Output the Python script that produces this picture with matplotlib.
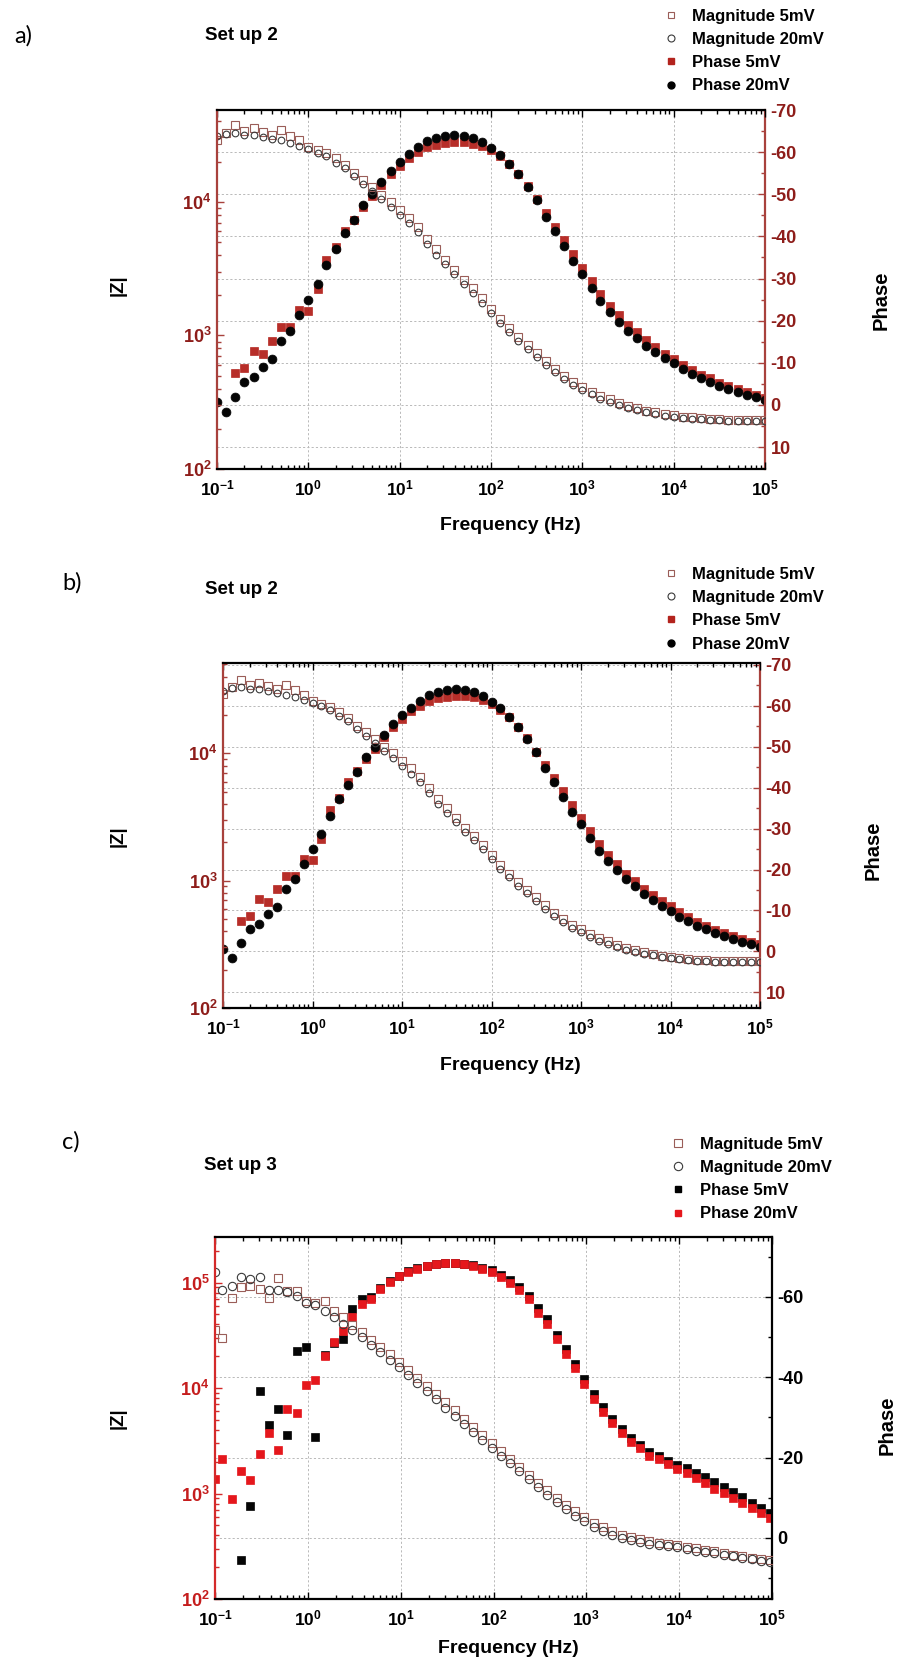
import numpy as np
import matplotlib
matplotlib.use('Agg')
import matplotlib.pyplot as plt
from matplotlib.ticker import FixedLocator, FixedFormatter, LogLocator, NullLocator, NullFormatter
from matplotlib.lines import Line2D

plt.rcParams['font.family'] = ['Liberation Sans', 'DejaVu Sans']
plt.rcParams['mathtext.fontset'] = 'custom'
plt.rcParams['mathtext.rm'] = 'Liberation Sans:bold'
plt.rcParams['mathtext.bf'] = 'Liberation Sans:bold'
plt.rcParams['mathtext.it'] = 'Liberation Sans:bold:italic'

nan = np.nan

# ---------------- data: panels a) and b) (same measurement, Set up 2) ----------------
FREQ_AB = [0.1, 0.126, 0.158, 0.2, 0.251, 0.316, 0.398, 0.501, 0.631, 0.794,
           1.0, 1.26, 1.58, 2.0, 2.51, 3.16, 3.98, 5.01, 6.31, 7.94,
           10, 12.6, 15.8, 20, 25.1, 31.6, 39.8, 50.1, 63.1, 79.4,
           100, 126, 158, 200, 251, 316, 398, 501, 631, 794,
           1000, 1260, 1580, 2000, 2510, 3160, 3980, 5010, 6310, 7940,
           10000, 12600, 15800, 20000, 25100, 31600, 39800, 50100, 63100, 79400, 100000]

MAG_5MV_AB = [29000, 33000, 37800, 34200, 35600, 33600, 31800, 34600, 31200, 28800,
              25900, 24500, 23200, 21200, 18900, 16400, 14600, 12900, 11300, 10000,
              8700, 7600, 6500, 5300, 4400, 3700, 3100, 2600, 2250, 1900,
              1580, 1320, 1130, 980, 850, 740, 640, 560, 498, 451,
              414, 380, 352, 333, 314, 297, 285, 274, 266, 258,
              252, 247, 243, 240, 237, 235, 234, 233, 233, 232, 232]

MAG_20MV_AB = [31000, 32300, 33000, 31800, 31800, 30800, 29500, 28800, 27800, 26400,
               24900, 23400, 21900, 19700, 17900, 15500, 13600, 12000, 10500, 9200,
               8000, 6900, 5900, 4850, 4000, 3400, 2880, 2420, 2080, 1760,
               1470, 1240, 1060, 915, 795, 690, 600, 528, 470, 428,
               392, 362, 337, 318, 302, 287, 276, 266, 259, 251,
               246, 241, 238, 235, 233, 231, 230, 229, 229, 228, 228]

PHASE_5MV_AB = [nan, nan, -7.5, -8.7, -12.7, -12.1, -15.2, -18.4, -18.4, -22.6,
                -22.2, -27.4, -34.5, -37.5, -41.4, -44.0, -47.0, -49.5, -52.3, -54.7,
                -56.8, -58.6, -60.0, -61.2, -61.8, -62.2, -62.4, -62.3, -62.0, -61.4,
                -60.4, -59.0, -57.3, -54.8, -52.0, -48.8, -45.6, -42.3, -39.2, -35.8,
                -32.5, -29.4, -26.3, -23.6, -21.3, -19.0, -17.2, -15.3, -13.7, -12.2,
                -11.0, -9.6, -8.4, -7.2, -6.3, -5.3, -4.5, -3.8, -3.1, -2.4, -1.7]

PHASE_20MV_AB = [-0.6, 1.6, -2.0, -5.4, -6.6, -9.1, -10.9, -15.2, -17.6, -21.4,
                 -24.9, -28.6, -33.1, -37.1, -40.7, -43.8, -47.4, -50.0, -52.9, -55.5,
                 -57.6, -59.5, -61.2, -62.6, -63.3, -63.8, -64.0, -63.8, -63.3, -62.4,
                 -61.0, -59.4, -57.3, -54.8, -51.8, -48.6, -44.7, -41.3, -37.7, -34.1,
                 -31.0, -27.8, -24.6, -22.0, -19.8, -17.6, -15.9, -14.0, -12.5, -11.1,
                 -9.9, -8.5, -7.4, -6.3, -5.4, -4.5, -3.7, -3.0, -2.4, -1.8, -1.2]

# ---------------- data: panel c) (Set up 3) ----------------
FREQ_C = [0.1, 0.1202, 0.1514, 0.1905, 0.2399, 0.302, 0.3802, 0.4786, 0.6026, 0.7586, 0.955,
          1.202, 1.514, 1.905, 2.399, 3.02, 3.802, 4.786, 6.026, 7.586, 9.55,
          12.02, 15.14, 19.05, 23.99, 30.2, 38.02, 47.86, 60.26, 75.86, 95.5,
          120.2, 151.4, 190.5, 239.9, 302, 380.2, 478.6, 602.6, 758.6, 955,
          1202, 1514, 1905, 2399, 3020, 3802, 4786, 6026, 7586, 9550,
          12020, 15140, 19050, 23990, 30200, 38020, 47860, 60260, 75860, 95500]

MAG_5MV_C = [35500, 29500, 70800, 90100, 93300, 87100, 70800, 110000, 83700, 83700, 67400,
             64100, 67400, 54200, 46900, 39800, 33900, 28800, 24500, 20900, 17800,
             14800, 12400, 10500, 8710, 7330, 6170, 5130, 4270, 3550, 2990,
             2510, 2140, 1800, 1510, 1270, 1070, 912, 785, 676, 596,
             531, 479, 437, 407, 385, 367, 355, 343, 331, 324,
             313, 302, 292, 282, 272, 263, 254, 245, 240, 234]

MAG_20MV_C = [125000, 85100, 93300, 112000, 108000, 112000, 85700, 85700, 80700, 75200, 64600,
              61400, 54200, 47500, 40600, 35100, 30200, 25700, 21900, 18600, 15800,
              13300, 11100, 9310, 7800, 6530, 5470, 4580, 3840, 3210, 2690,
              2290, 1950, 1640, 1380, 1160, 977, 832, 716, 617, 543,
              484, 437, 403, 376, 359, 347, 335, 324, 316, 308,
              298, 288, 279, 270, 262, 254, 245, 238, 230, 223]

PHASE_5MV_C = [nan, nan, nan, 5.5, -7.9, -36.6, -28.1, -32.0, -25.6, -46.5, -47.5,
               -25.0, -45.6, -48.5, -49.6, -56.9, -59.5, -60.0, -62.3, -64.0, -65.3,
               -66.4, -67.2, -67.8, -68.2, -68.5, -68.5, -68.3, -67.9, -67.3, -66.6,
               -65.4, -64.1, -62.4, -60.2, -57.2, -54.5, -50.6, -47.0, -43.3, -39.6,
               -35.9, -32.5, -29.7, -27.0, -24.8, -23.1, -21.3, -20.4, -19.2, -18.2,
               -17.4, -16.2, -15.1, -13.8, -12.6, -11.4, -10.1, -8.8, -7.5, -6.2]

PHASE_20MV_C = [-14.7, -19.6, -9.6, -16.7, -14.4, -21.0, -26.2, -21.9, -32.2, -31.2, -38.0,
                -39.3, -45.2, -48.7, -51.5, -55.0, -58.3, -59.5, -62.0, -63.7, -65.1,
                -66.2, -67.0, -67.6, -68.1, -68.4, -68.4, -68.2, -67.7, -67.0, -66.2,
                -64.9, -63.5, -61.7, -59.4, -56.1, -53.2, -49.6, -45.9, -42.2, -38.4,
                -34.7, -31.4, -28.7, -26.0, -23.9, -22.3, -20.4, -19.6, -18.3, -17.1,
                -16.1, -14.8, -13.7, -12.3, -11.1, -9.9, -8.6, -7.4, -6.1, -4.9]

# ---------------- tick labels / texts ----------------
X_TICKS = [1e-1, 1e0, 1e1, 1e2, 1e3, 1e4, 1e5]
X_TICK_LABELS = [r'$10^{-1}$', r'$10^{0}$', r'$10^{1}$', r'$10^{2}$', r'$10^{3}$', r'$10^{4}$', r'$10^{5}$']
Z_TICKS_AB = [1e2, 1e3, 1e4]
Z_TICK_LABELS_AB = [r'$10^{2}$', r'$10^{3}$', r'$10^{4}$']
Z_TICKS_C = [1e2, 1e3, 1e4, 1e5]
Z_TICK_LABELS_C = [r'$10^{2}$', r'$10^{3}$', r'$10^{4}$', r'$10^{5}$']
P_TICKS_AB = [-70, -60, -50, -40, -30, -20, -10, 0, 10]
P_MINOR_AB = [-65, -55, -45, -35, -25, -15, -5, 5, 15]
P_TICKS_C = [-60, -40, -20, 0]
P_MINOR_C = [-70, -50, -30, -10, 10]
LEGEND_LABELS = ['Magnitude 5mV', 'Magnitude 20mV', 'Phase 5mV', 'Phase 20mV']

W, H = 897, 1667
fig = plt.figure(figsize=(W / 100, H / 100), dpi=100)
fig.patch.set_facecolor('white')

GRID_KW = dict(color='#b9b9b9', linestyle=(0, (2.2, 2.2)), linewidth=0.7)
BOLD = dict(fontweight='bold')
YTICK_FS = 13
XTICK_FS = 12.5


def fx(x):
    return x / W


def fy(y):
    return 1 - y / H


def panel(l, t, r, b, zlim, plim, zticks, zlabels, pticks, plabels, pminor,
          left_col, left_lab_col, right_col, right_lab_col):
    pos = [fx(l), fy(b), (r - l) / W, (b - t) / H]
    axp = fig.add_axes(pos)
    axm = fig.add_axes(pos)
    axm.patch.set_visible(False)
    for a in (axp, axm):
        a.set_xscale('log')
        a.set_xlim(0.1, 1e5)
    # phase axis (behind, right)
    axp.set_ylim(*plim)
    axp.yaxis.tick_right()
    axp.yaxis.set_major_locator(FixedLocator(pticks))
    axp.yaxis.set_major_formatter(FixedFormatter(plabels))
    axp.yaxis.set_minor_locator(FixedLocator(pminor))
    axp.tick_params(axis='y', which='both', direction='in', color=right_col,
                    labelcolor=right_lab_col, labelsize=YTICK_FS, pad=4, width=1.0)
    axp.tick_params(axis='y', which='major', length=5)
    axp.tick_params(axis='y', which='minor', length=3)
    for lab in axp.get_yticklabels():
        lab.set_fontweight('bold')
    axp.xaxis.set_major_locator(FixedLocator(X_TICKS))
    axp.xaxis.set_minor_locator(NullLocator())
    axp.tick_params(axis='x', which='both', bottom=False, top=False,
                    labelbottom=False, labeltop=False)
    axp.grid(True, which='major', **GRID_KW)
    for s in axp.spines.values():
        s.set_visible(False)
    axp.spines['right'].set_visible(True)
    axp.spines['right'].set_color(right_col)
    axp.spines['right'].set_linewidth(1.6)
    # magnitude axis (front, left)
    axm.set_yscale('log')
    axm.set_ylim(*zlim)
    axm.yaxis.set_major_locator(FixedLocator(zticks))
    axm.yaxis.set_major_formatter(FixedFormatter(zlabels))
    axm.yaxis.set_minor_locator(LogLocator(base=10, subs=np.arange(2, 10), numticks=20))
    axm.yaxis.set_minor_formatter(NullFormatter())
    axm.tick_params(axis='y', which='both', direction='in', color=left_col,
                    labelcolor=left_lab_col, labelsize=YTICK_FS, pad=4, width=1.0)
    axm.tick_params(axis='y', which='major', length=5)
    axm.tick_params(axis='y', which='minor', length=3)
    axm.xaxis.set_major_locator(FixedLocator(X_TICKS))
    axm.xaxis.set_major_formatter(FixedFormatter(X_TICK_LABELS))
    axm.xaxis.set_minor_locator(LogLocator(base=10, subs=np.arange(2, 10), numticks=20))
    axm.xaxis.set_minor_formatter(NullFormatter())
    axm.tick_params(axis='x', which='both', direction='in', top=True, bottom=True,
                    color='black', labelsize=XTICK_FS, pad=7, width=1.0)
    axm.tick_params(axis='x', which='major', length=5)
    axm.tick_params(axis='x', which='minor', length=3)
    axm.spines['right'].set_visible(False)
    axm.spines['left'].set_color(left_col)
    axm.spines['left'].set_linewidth(1.6)
    axm.spines['top'].set_linewidth(1.6)
    axm.spines['bottom'].set_linewidth(1.6)
    return axm, axp


def legend(x, y, handles, fs=12):
    fig.legend(handles, LEGEND_LABELS, loc='upper left', bbox_to_anchor=(fx(x), fy(y)),
               frameon=False, prop={'weight': 'bold', 'size': fs}, handlelength=0.9,
               handletextpad=0.87, labelspacing=0.5, borderpad=0, borderaxespad=0)


# colours
DR = '#8e1d1a'
DR_SP = '#a8413c'
SQ_EDGE = '#9a5d58'
CI_EDGE = '#3a3a3a'
PH5_RED = '#b3231d'
C_RED = '#e5171c'

# ---------- panels a and b ----------
for (l, t, r, b, zlim, plim, letter_x, letter_y, title_y, leg_y, zlab_y, plab_x, plab_y,
     freq_y, letter) in [
        (217, 110, 765, 469, (100, 48700), (15.2, -70), 14, 36, 36, 8.5, 285, 881, 300, 526, 'a)'),
        (223, 663, 760, 1008, (100, 51200), (13.8, -70.4), 62, 583, 589, 566.5, 836, 873, 850,
         1066, 'b)')]:
    axm, axp = panel(l, t, r, b, zlim, plim, Z_TICKS_AB, Z_TICK_LABELS_AB,
                     P_TICKS_AB, [str(v) for v in P_TICKS_AB], P_MINOR_AB,
                     DR_SP, DR, DR_SP, DR)
    axp.plot(FREQ_AB, PHASE_5MV_AB, ls='none', marker='s', ms=5.8, mfc=PH5_RED,
             mec=PH5_RED, mew=0.5, alpha=0.95)
    axp.plot(FREQ_AB, PHASE_20MV_AB, ls='none', marker='o', ms=6.4, mfc='#050505',
             mec='#050505', mew=0.5)
    axm.plot(FREQ_AB, MAG_5MV_AB, ls='none', marker='s', ms=5.2, mfc='none',
             mec=SQ_EDGE, mew=0.8)
    axm.plot(FREQ_AB, MAG_20MV_AB, ls='none', marker='o', ms=4.8, mfc='none',
             mec=CI_EDGE, mew=0.8)
    fig.text(fx(letter_x), fy(letter_y), letter, fontsize=17, family=['Lato', 'DejaVu Sans'],
             va='center', ha='left')
    fig.text(fx(205), fy(title_y), 'Set up 2', fontsize=13.5, va='center', ha='left', **BOLD)
    fig.text(fx(118), fy(zlab_y), '|Z|', fontsize=13.5, rotation=90, va='center',
             ha='center', **BOLD)
    fig.text(fx(plab_x), fy(plab_y), 'Phase', fontsize=14.5, rotation=90, va='center',
             ha='center', **BOLD)
    fig.text(fx(510), fy(freq_y), 'Frequency (Hz)', fontsize=14, va='center',
             ha='center', **BOLD)
    handles = [Line2D([], [], ls='none', marker='s', ms=5, mfc='none', mec=SQ_EDGE, mew=0.8),
               Line2D([], [], ls='none', marker='o', ms=5, mfc='none', mec=CI_EDGE, mew=0.8),
               Line2D([], [], ls='none', marker='s', ms=5, mfc=PH5_RED, mec=PH5_RED),
               Line2D([], [], ls='none', marker='o', ms=5, mfc='black', mec='black')]
    legend(663, leg_y, handles)

# ---------- panel c ----------
axm, axp = panel(215, 1237, 772, 1599, (100, 270000), (15.2, -74.9), Z_TICKS_C, Z_TICK_LABELS_C,
                 P_TICKS_C, [str(v) for v in P_TICKS_C], P_MINOR_C,
                 '#d42a2a', '#c51d1d', 'black', 'black')
axp.plot(FREQ_C, PHASE_5MV_C, ls='none', marker='s', ms=5.8, mfc='#050505', mec='#050505', mew=0.5)
axp.plot(FREQ_C, PHASE_20MV_C, ls='none', marker='s', ms=5.8, mfc=C_RED, mec=C_RED, mew=0.5)
axm.plot(FREQ_C, MAG_5MV_C, ls='none', marker='s', ms=5.4, mfc='none', mec=SQ_EDGE, mew=0.8)
axm.plot(FREQ_C, MAG_20MV_C, ls='none', marker='o', ms=6.0, mfc='none', mec=CI_EDGE, mew=0.8)
fig.text(fx(62), fy(1142), 'c)', fontsize=17, family=['Lato', 'DejaVu Sans'], va='center', ha='left')
fig.text(fx(204), fy(1166), 'Set up 3', fontsize=13.5, va='center', ha='left', **BOLD)
fig.text(fx(118), fy(1418), '|Z|', fontsize=13.5, rotation=90, va='center', ha='center', **BOLD)
fig.text(fx(887), fy(1425), 'Phase', fontsize=14.5, rotation=90, va='center', ha='center', **BOLD)
fig.text(fx(508), fy(1648), 'Frequency (Hz)', fontsize=14, va='center', ha='center', **BOLD)
handles_c = [Line2D([], [], ls='none', marker='s', ms=5.5, mfc='none', mec=SQ_EDGE, mew=0.8),
             Line2D([], [], ls='none', marker='o', ms=6, mfc='none', mec=CI_EDGE, mew=0.8),
             Line2D([], [], ls='none', marker='s', ms=5, mfc='black', mec='black'),
             Line2D([], [], ls='none', marker='s', ms=5, mfc=C_RED, mec=C_RED)]
legend(670, 1136.5, handles_c)

fig.savefig('out.png', dpi=100, facecolor='white')
